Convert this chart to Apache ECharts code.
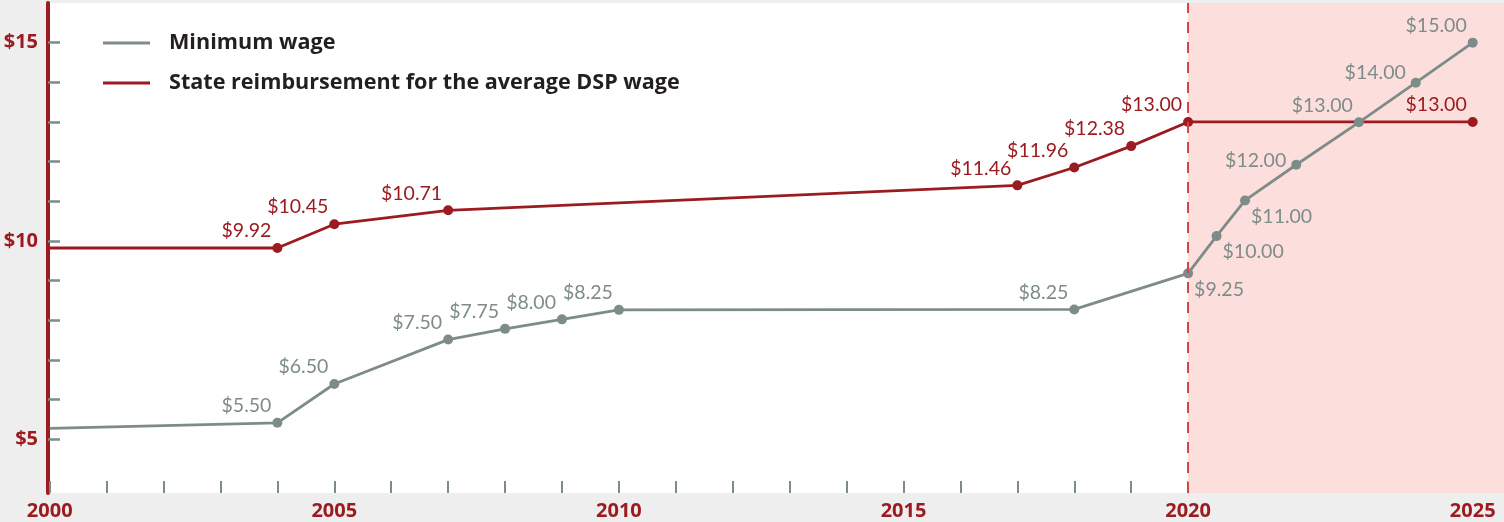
<!DOCTYPE html>
<html><head><meta charset="utf-8">
<script src="https://cdn.jsdelivr.net/npm/echarts@6/dist/echarts.min.js"></script>
<style>html,body{margin:0;padding:0;background:#eeeeee}#c{width:1504px;height:522px}</style>
</head><body><div id="c"></div>
<script>
const seriesNames = ['Minimum wage', 'State reimbursement for the average DSP wage'];

const minWageYears  = [2000, 2004, 2005, 2007, 2008, 2009, 2010, 2018, 2020, 2020.5, 2021, 2021.9, 2023, 2024, 2025];
const minWageValues = [5.27, 5.41, 6.39, 7.51, 7.78, 8.02, 8.26, 8.27, 9.18, 10.12, 11.02, 11.92, 12.99, 13.99, 15.0];
const minWageLabels = [null, '$5.50', '$6.50', '$7.50', '$7.75', '$8.00', '$8.25', '$8.25', '$9.25', '$10.00', '$11.00', '$12.00', '$13.00', '$14.00', '$15.00'];

const dspYears  = [2000, 2004, 2005, 2007, 2017, 2018, 2019, 2020, 2025];
const dspValues = [9.82, 9.82, 10.42, 10.77, 11.40, 11.85, 12.39, 13.0, 13.0];
const dspLabels = [null, '$9.92', '$10.45', '$10.71', '$11.46', '$11.96', '$12.38', '$13.00', '$13.00'];

const yearTicks  = [2000,2001,2002,2003,2004,2005,2006,2007,2008,2009,2010,2011,2012,2013,2014,2015,2016,2017,2018,2019,2020,2021,2022,2023,2024,2025];
const yearLabels = [2000, 2005, 2010, 2015, 2020, 2025];
const dollarTicks  = [5,6,7,8,9,10,11,12,13,14,15];
const dollarLabels = [5, 10, 15];
const projectionStart = 2020;

const RED = '#9b1b21', GRAY = '#7e8c89', PINK = '#fcdfdc', DASH = '#d8434b';
const X_MIN = 1999.97, X_MAX = 2025.55, Y_MIN = 3.64, Y_MAX = 16;

function aboveLeft() { return { align: 'right', verticalAlign: 'middle', offset: [-6, -17] }; }
function grayPlacer(year) {
  if (year >= 2020 && year <= 2021.5) return { align: 'left', verticalAlign: 'middle', offset: [6, 16] };
  if (year > 2021.5 && year < 2022.5) return { align: 'right', verticalAlign: 'middle', offset: [-10, -4] };
  if (year > 2023.5 && year < 2024.5) return { align: 'right', verticalAlign: 'middle', offset: [-10, -10] };
  return aboveLeft();
}
function buildData(years, values, labels, color, placer) {
  return years.map((yr, i) => {
    const item = { value: [yr, values[i]] };
    if (labels[i] == null) {
      item.symbol = 'none';
      item.label = { show: false };
    } else {
      item.label = Object.assign({
        show: true, position: 'inside', formatter: labels[i],
        fontFamily: 'Lato', fontSize: 19.5, color: color
      }, placer(yr));
    }
    return item;
  });
}

const chart = echarts.init(document.getElementById('c'));
chart.setOption({
  backgroundColor: '#eeeeee',
  animation: false,
  grid: { left: 48, right: 0, top: 3, bottom: 29, show: true, backgroundColor: '#ffffff', borderWidth: 0 },
  legend: {
    data: [seriesNames[0], seriesNames[1]],
    orient: 'vertical', left: 98, top: 26,
    icon: 'rect', itemWidth: 47, itemHeight: 3, itemGap: 16,
    textStyle: { fontFamily: 'Open Sans', fontWeight: 'bold', fontSize: 21.6, color: '#231f20', lineHeight: 24, padding: [0, 0, 0, 14] }
  },
  xAxis: {
    type: 'value', min: X_MIN, max: X_MAX,
    axisLine: { show: false },
    splitLine: { show: false },
    axisTick: { show: true, inside: true, length: 12, customValues: yearTicks, lineStyle: { color: GRAY, width: 2 } },
    axisLabel: { customValues: yearLabels, formatter: v => String(Math.round(v)), fontFamily: 'Open Sans', fontWeight: 'bold', fontSize: 20, color: RED, margin: 8 }
  },
  yAxis: {
    type: 'value', min: Y_MIN, max: Y_MAX,
    axisLine: { show: true, lineStyle: { color: RED, width: 4 } },
    splitLine: { show: false },
    axisTick: { show: true, inside: true, length: 12, customValues: dollarTicks, lineStyle: { color: GRAY, width: 2.5 } },
    axisLabel: { customValues: dollarLabels, formatter: v => '$' + v, fontFamily: 'Open Sans', fontWeight: 'bold', fontSize: 20, color: RED, margin: 10 }
  },
  series: [
    {
      type: 'line', name: 'projection', data: [], silent: true, z: 1,
      markArea: { silent: true, itemStyle: { color: PINK }, data: [[{ xAxis: projectionStart }, { xAxis: X_MAX }]] },
      markLine: { silent: true, symbol: ['none', 'none'], label: { show: false },
        lineStyle: { color: DASH, width: 2, type: [11, 9] }, data: [{ xAxis: projectionStart }] }
    },
    {
      type: 'line', name: seriesNames[1], z: 3,
      data: buildData(dspYears, dspValues, dspLabels, RED, aboveLeft),
      symbol: 'circle', symbolSize: 10, lineStyle: { color: RED, width: 2.8 }, itemStyle: { color: RED }
    },
    {
      type: 'line', name: seriesNames[0], z: 4,
      data: buildData(minWageYears, minWageValues, minWageLabels, GRAY, grayPlacer),
      symbol: 'circle', symbolSize: 10, lineStyle: { color: GRAY, width: 2.8 }, itemStyle: { color: GRAY }
    }
  ]
});
</script>
</body></html>
